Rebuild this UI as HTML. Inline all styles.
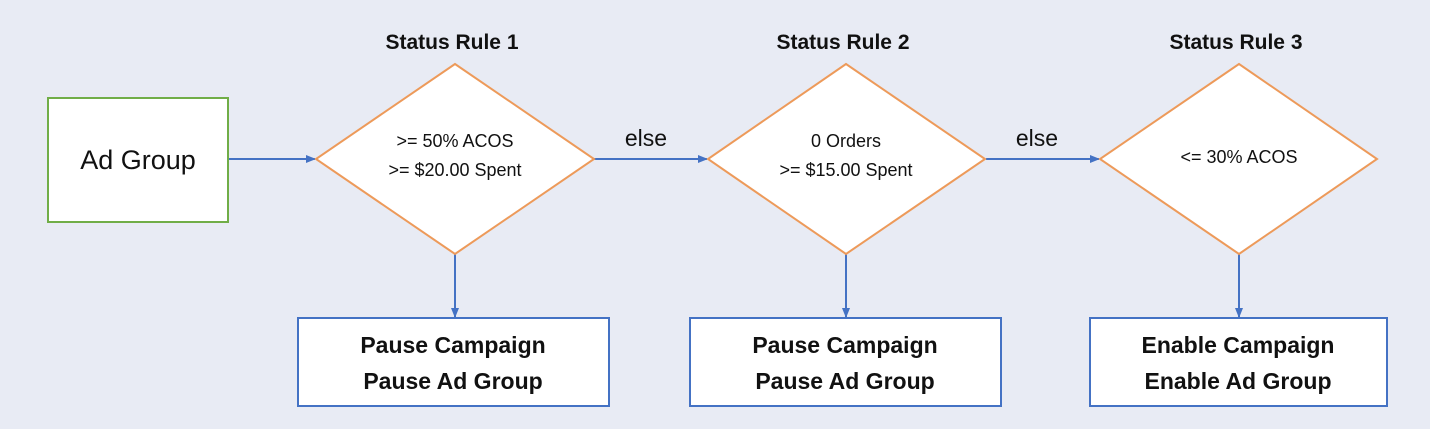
<!DOCTYPE html>
<html><head><style>
body{margin:0;background:#e8ebf4;}
svg{display:block;font-family:"Liberation Sans",sans-serif;}
</style></head><body>
<svg width="1430" height="429" viewBox="0 0 1430 429">
<defs><marker id="a" markerWidth="10" markerHeight="10" refX="9" refY="5" orient="auto" markerUnits="userSpaceOnUse"><path d="M0,1 L10,5 L0,9 z" fill="#4472c4"/></marker></defs>
<rect x="0" y="0" width="1430" height="429" fill="#e8ebf4"/>
<rect x="48" y="98" width="180" height="124" fill="#fff" stroke="#70ad47" stroke-width="2"/>
<text x="138" y="169" font-size="27" text-anchor="middle" fill="#111">Ad Group</text>
<g stroke="#4472c4" stroke-width="2" fill="none">
<line x1="229" y1="159" x2="315" y2="159" marker-end="url(#a)"/>
<line x1="594" y1="159" x2="707" y2="159" marker-end="url(#a)"/>
<line x1="986" y1="159" x2="1099" y2="159" marker-end="url(#a)"/>
<line x1="455" y1="254" x2="455" y2="317" marker-end="url(#a)"/>
<line x1="846" y1="254" x2="846" y2="317" marker-end="url(#a)"/>
<line x1="1239" y1="254" x2="1239" y2="317" marker-end="url(#a)"/>
</g>
<g fill="#fff" stroke="#ed9a5a" stroke-width="2">
<polygon points="455,64 594,159 455,254 316,159"/>
<polygon points="846,64 985,159 846,254 708,159"/>
<polygon points="1239,64 1377,159 1239,254 1100,159"/>
</g>
<g font-size="18" text-anchor="middle" fill="#111">
<text x="455" y="147">&gt;= 50% ACOS</text>
<text x="455" y="176">&gt;= $20.00 Spent</text>
<text x="846" y="147">0 Orders</text>
<text x="846" y="176">&gt;= $15.00 Spent</text>
<text x="1239" y="163">&lt;= 30% ACOS</text>
</g>
<g font-size="21" font-weight="bold" text-anchor="middle" fill="#111">
<text x="452" y="49">Status Rule 1</text>
<text x="843" y="49">Status Rule 2</text>
<text x="1236" y="49">Status Rule 3</text>
</g>
<g font-size="23" text-anchor="middle" fill="#111">
<text x="646" y="146">else</text>
<text x="1037" y="146">else</text>
</g>
<g fill="#fff" stroke="#4472c4" stroke-width="2">
<rect x="298" y="318" width="311" height="88"/>
<rect x="690" y="318" width="311" height="88"/>
<rect x="1090" y="318" width="297" height="88"/>
</g>
<g font-size="23" font-weight="bold" text-anchor="middle" fill="#111">
<text x="453" y="353">Pause Campaign</text>
<text x="453" y="389">Pause Ad Group</text>
<text x="845" y="353">Pause Campaign</text>
<text x="845" y="389">Pause Ad Group</text>
<text x="1238" y="353">Enable Campaign</text>
<text x="1238" y="389">Enable Ad Group</text>
</g>
</svg>
</body></html>
